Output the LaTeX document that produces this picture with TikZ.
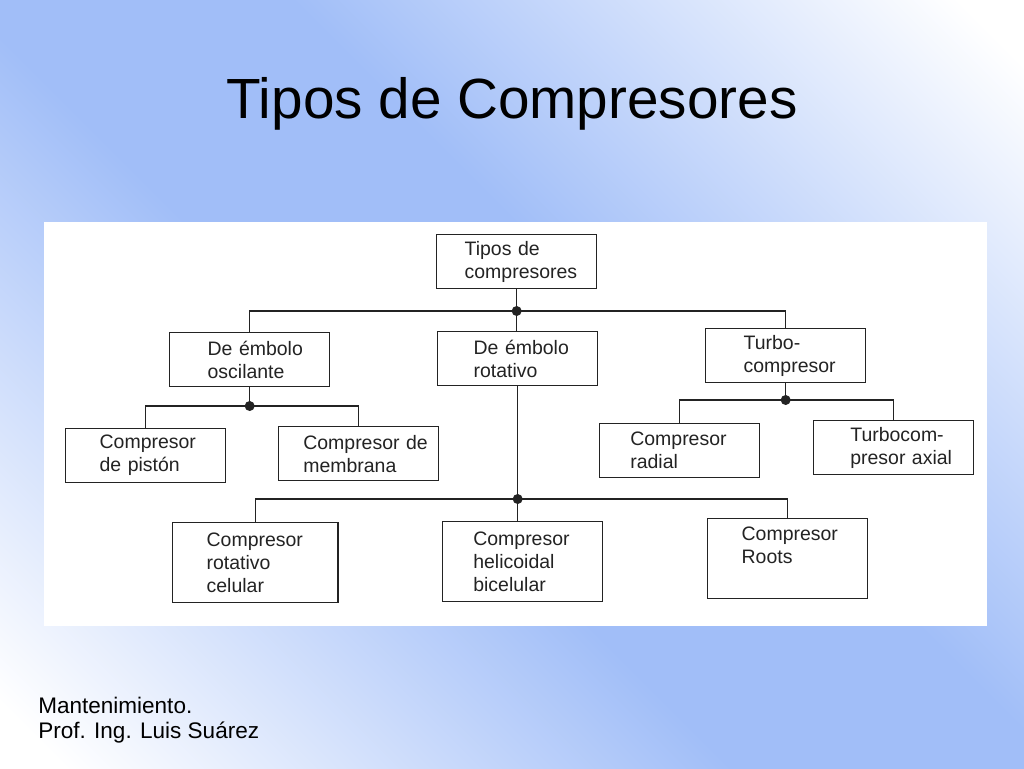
\documentclass[tikz,border=0pt]{standalone}
\usepackage{fontspec}
\setmainfont{Liberation Sans}
\usetikzlibrary{positioning}
\definecolor{slideblue}{RGB}{161,190,248}
\definecolor{inkgray}{RGB}{35,35,35}
\pgfdeclareverticalshading{slideshade}{100bp}{color(0bp)=(white); color(17bp)=(white); color(43.5bp)=(slideblue); color(56.5bp)=(slideblue); color(83bp)=(white); color(100bp)=(white)}
\newcommand{\boxfont}{\fontsize{14.6pt}{17.25pt}\selectfont}
\newcommand{\titlefont}{\fontsize{42.5pt}{51pt}\selectfont}
\newcommand{\footfont}{\fontsize{16.9pt}{18.75pt}\selectfont}
\tikzset{
  textindent/.style={execute at begin node={\leftskip=#1}},
  cbox/.style={draw=inkgray, line width=1pt, anchor=north west, fill=white,
    text=inkgray, font=\boxfont, align=left, inner xsep=1.5pt, inner ysep=0pt,
    text width=117pt, minimum width=120pt, minimum height=40.5pt, textindent=24pt},
  tallbox/.style={cbox, minimum height=60pt},
  link/.style={draw=inkgray, line width=1pt},
  joint/.style={circle, fill=inkgray, inner sep=0pt, minimum size=7.5pt}
}

\begin{document}
\begin{tikzpicture}[x=0.75pt, y=-0.75pt]
    \useasboundingbox (0,0) rectangle (1024,768);
    % Slide background
    \shade[shading=slideshade, shading angle=-45] (0,0) rectangle (1024,768);
    \fill[white] (44,222) rectangle (987,626);

    % Title and credits
    \node[font=\titlefont, anchor=base] (title) at (512,118) {Tipos de Compresores};
    \node[font=\footfont, align=left, anchor=north west, inner sep=0pt] (credit) at (38,697)
        {Mantenimiento.\\Prof. Ing. Luis Suárez};

    % Root
    \node[cbox, textindent=19.5pt] (tipos) at (436,234) {Tipos de\\compresores};

    % First level
    \node[cbox, textindent=27pt] (oscil) at (169,332) {De émbolo\\oscilante};
    \node[cbox, textindent=25.5pt] (rotat) at (437,331) {De émbolo\\rotativo};
    \node[cbox, textindent=27pt] (turbo) at (705,328) {Turbo-\\compresor};

    % Second level
    \node[cbox] (piston) at (65,428) {Compresor\\de pistón};
    \node[cbox, textindent=17pt] (membr) at (278,426) {Compresor de\\membrana};
    \node[cbox, textindent=21.5pt] (radial) at (599,423) {Compresor\\radial};
    \node[cbox, textindent=26pt] (axial) at (813,420) {Turbocom-\\presor axial};
    \node[tallbox, minimum width=124pt, text width=121pt] (celul) at (172,522) {Compresor\\rotativo\\celular};
    \node[tallbox, textindent=21.5pt] (helic) at (442,521) {Compresor\\helicoidal\\bicelular};
    \node[tallbox, text depth=37.5pt] (roots) at (707,518) {Compresor\\Roots};

    % Junctions
    \node[joint] (j1) at (tipos.south |- 0,311) {};
    \node[joint] (j2) at (oscil.south |- 0,406) {};
    \node[joint] (j3) at (turbo.south |- 0,400) {};
    \node[joint] (j4) at (rotat.south |- 0,499) {};

    % Connectors
    \draw[link] (tipos.south) -- (j1.center) -- (j1 |- rotat.north);
    \draw[link] (oscil.north) |- (j1.center) -| (turbo.north);
    \draw[link] (oscil.south) -- (j2.center);
    \draw[link] (piston.north) |- (j2.center) -| (membr.north);
    \draw[link] (turbo.south) -- (j3.center);
    \draw[link] (radial.north) |- (j3.center) -| (axial.north);
    \draw[link] (rotat.south) -- (j4.center) -- (j4 |- helic.north);
    \draw[link] (celul.north) |- (j4.center) -| (roots.north);
\end{tikzpicture}
\end{document}
